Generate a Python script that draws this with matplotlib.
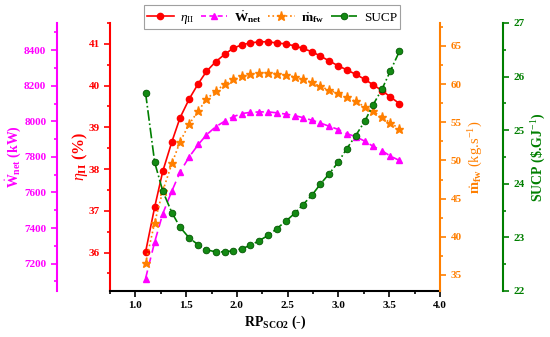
import matplotlib
matplotlib.use("Agg")
import matplotlib.pyplot as plt
from matplotlib.ticker import MultipleLocator
from matplotlib.lines import Line2D

plt.rcParams['font.family'] = ['Liberation Serif', 'DejaVu Serif']
plt.rcParams['mathtext.fontset'] = 'custom'
plt.rcParams['mathtext.rm'] = 'Liberation Serif'
plt.rcParams['mathtext.it'] = 'Liberation Serif:italic'
plt.rcParams['mathtext.bf'] = 'Liberation Serif:bold'

# ---- data ----
rp = [1.10, 1.19, 1.27, 1.36, 1.44, 1.53, 1.62, 1.70, 1.79, 1.88,
      1.96, 2.05, 2.13, 2.22, 2.31, 2.39, 2.48, 2.57, 2.65, 2.74,
      2.82, 2.91, 3.00, 3.08, 3.17, 3.26, 3.34, 3.43, 3.51, 3.60]
eta_II = [36.01, 37.09, 37.95, 38.66, 39.23, 39.68, 40.05, 40.34, 40.57, 40.75,
          40.89, 40.98, 41.02, 41.05, 41.05, 41.02, 41.00, 40.95, 40.89, 40.81,
          40.71, 40.59, 40.47, 40.38, 40.27, 40.15, 40.02, 39.88, 39.73, 39.57]
w_net = [7116, 7322, 7481, 7609, 7715, 7800, 7870, 7924, 7969, 8001,
         8025, 8044, 8050, 8053, 8053, 8048, 8041, 8032, 8021, 8006,
         7991, 7972, 7954, 7931, 7914, 7888, 7860, 7834, 7805, 7780]
m_fw = [36.51, 41.87, 46.00, 49.62, 52.44, 54.76, 56.50, 57.99, 59.11, 59.95,
        60.60, 61.08, 61.30, 61.47, 61.49, 61.35, 61.17, 60.94, 60.60, 60.21,
        59.69, 59.20, 58.77, 58.25, 57.72, 57.02, 56.42, 55.63, 54.93, 54.14]
sucp = [25.70, 24.40, 23.86, 23.46, 23.19, 22.99, 22.86, 22.77, 22.73, 22.73,
        22.75, 22.79, 22.85, 22.94, 23.04, 23.16, 23.30, 23.45, 23.61, 23.79,
        23.99, 24.19, 24.41, 24.65, 24.90, 25.17, 25.47, 25.77, 26.10, 26.47]

RED = '#FF0000'
MAG = '#FF00FF'
ORA = '#FF7F00'
GRN = '#007F00'

fig = plt.figure(figsize=(5.5, 3.37), dpi=100)
ax = fig.add_axes([0.2, 0.1365, 0.6, 0.7953])

tick_kw = dict(direction='out', width=1.2)

# main axis (eta)
ax.plot(rp, eta_II, '-', color=RED, lw=1.2, marker='o', ms=4.5, zorder=3)
ax.set_xlim(0.75, 4.0)
ax.set_ylim(35.08, 41.5)
ax.xaxis.set_major_locator(MultipleLocator(0.5))
ax.xaxis.set_minor_locator(MultipleLocator(0.25))
ax.yaxis.set_major_locator(MultipleLocator(1))
ax.yaxis.set_minor_locator(MultipleLocator(0.5))
ax.spines['top'].set_visible(False)
ax.spines['right'].set_visible(False)
ax.spines['left'].set_color(RED)
ax.spines['left'].set_linewidth(1.5)
ax.spines['bottom'].set_linewidth(1.5)
ax.tick_params(axis='x', which='major', length=4, labelsize=8, **tick_kw)
ax.tick_params(axis='x', which='minor', length=2, **tick_kw)
ax.tick_params(axis='y', which='major', length=4, labelsize=8, colors=RED, **tick_kw)
ax.tick_params(axis='y', which='minor', length=2, colors=RED, **tick_kw)
for lb in ax.get_xticklabels() + ax.get_yticklabels():
    lb.set_fontweight('bold')
ax.set_xlabel(r'RP$_{\mathbf{SCO2}}$ (-)', fontsize=10, fontweight='bold', labelpad=2)
ax.set_ylabel(r'$\eta_{\mathbf{II}}$ (%)', fontsize=11.5, fontweight='bold', color=RED, labelpad=-1)

# magenta (W_net)
ax2 = ax.twinx()
ax2.plot(rp, w_net, '--', color=MAG, lw=1.2, marker='^', ms=5, dashes=(5, 3))
ax2.set_ylim(7046, 8553)
ax2.yaxis.set_major_locator(MultipleLocator(200))
ax2.yaxis.set_minor_locator(MultipleLocator(100))
ax2.yaxis.tick_left()
ax2.yaxis.set_label_position('left')
for s in ['top', 'right', 'bottom']:
    ax2.spines[s].set_visible(False)
ax2.spines['left'].set_position(('axes', -0.1615))
ax2.spines['left'].set_color(MAG)
ax2.spines['left'].set_linewidth(1.5)
ax2.tick_params(axis='y', which='major', length=4, labelsize=8, colors=MAG, **tick_kw)
ax2.tick_params(axis='y', which='minor', length=2, colors=MAG, **tick_kw)
for lb in ax2.get_yticklabels():
    lb.set_fontweight('bold')
ax2.set_ylabel(r'$\dot{\mathbf{W}}_{\mathbf{net}}$ (kW)', fontsize=10, fontweight='bold', color=MAG, labelpad=1)

# orange (m_fw)
ax3 = ax.twinx()
ax3.plot(rp, m_fw, ':', color=ORA, lw=1.2, marker='*', ms=6.5)
ax3.set_ylim(32.9, 68.0)
ax3.yaxis.set_major_locator(MultipleLocator(5))
ax3.yaxis.set_minor_locator(MultipleLocator(2.5))
for s in ['top', 'left', 'bottom']:
    ax3.spines[s].set_visible(False)
ax3.spines['right'].set_color(ORA)
ax3.spines['right'].set_linewidth(1.5)
ax3.tick_params(axis='y', which='major', length=4, labelsize=8, colors=ORA, **tick_kw)
ax3.tick_params(axis='y', which='minor', length=2, colors=ORA, **tick_kw)
for lb in ax3.get_yticklabels():
    lb.set_fontweight('bold')
ax3.set_ylabel(r'$\dot{\mathbf{m}}_{\mathbf{fw}}$ (kg.s$^{-1}$)', fontsize=10.5, color=ORA, labelpad=4)

# green (SUCP)
ax4 = ax.twinx()
ax4.plot(rp, sucp, '-.', color=GRN, lw=1.2, marker='o', ms=4.8,
         mfc='#138a13', mec='#005500', mew=0.6)
ax4.set_ylim(22, 27)
ax4.yaxis.set_major_locator(MultipleLocator(1))
ax4.yaxis.set_minor_locator(MultipleLocator(0.5))
for s in ['top', 'left', 'bottom']:
    ax4.spines[s].set_visible(False)
ax4.spines['right'].set_position(('axes', 1.191))
ax4.spines['right'].set_color(GRN)
ax4.spines['right'].set_linewidth(1.5)
ax4.tick_params(axis='y', which='major', length=4, labelsize=8, colors=GRN, **tick_kw)
ax4.tick_params(axis='y', which='minor', length=2, colors=GRN, **tick_kw)
for lb in ax4.get_yticklabels():
    lb.set_fontweight('bold')
ax4.set_ylabel(r'SUCP (\$.GJ$^{-1}$)', fontsize=10, fontweight='bold', color=GRN, labelpad=4)

# legend
handles = [
    Line2D([], [], color=RED, ls='-', lw=1.2, marker='o', ms=4.5),
    Line2D([], [], color=MAG, ls='--', lw=1.2, marker='^', ms=5, dashes=(3, 2)),
    Line2D([], [], color=ORA, ls=':', lw=1.2, marker='*', ms=6.5),
    Line2D([], [], color=GRN, ls='-.', lw=1.2, marker='o', ms=4.8, mfc='#138a13', mec='#005500', mew=0.6),
]
labels = [r'$\eta_{\mathrm{II}}$', r'$\dot{\mathbf{W}}_{\mathbf{net}}$',
          r'$\dot{\mathbf{m}}_{\mathbf{fw}}$', 'SUCP']
leg = fig.legend(handles, labels, loc='center', bbox_to_anchor=(272 / 550, 1 - 17 / 337),
                 ncol=4, fontsize=9.5, frameon=True, fancybox=False, edgecolor='#888888',
                 handlelength=2.0, handletextpad=0.5, columnspacing=0.5,
                 borderpad=0.25, borderaxespad=0)
leg.get_frame().set_linewidth(0.8)

fig.savefig('out.png', dpi=100)
